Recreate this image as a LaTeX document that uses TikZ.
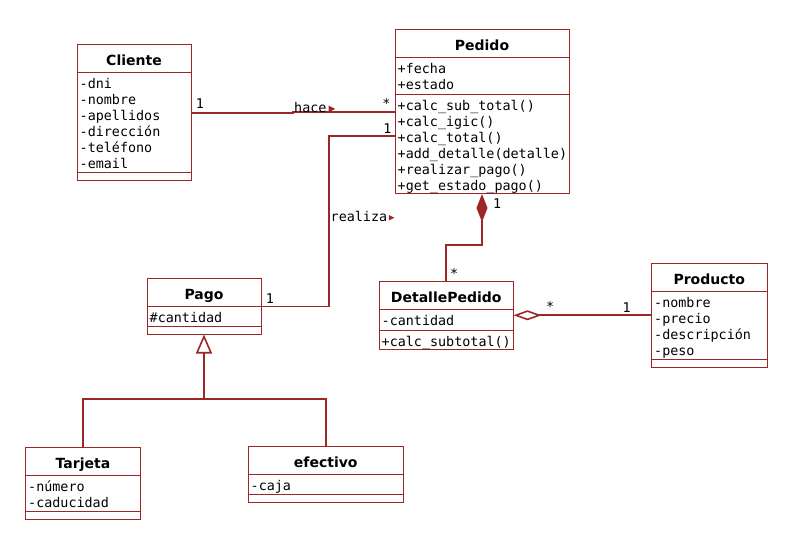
\documentclass[tikz,border=0pt]{standalone}
\usepackage{fontspec}
\setmainfont{DejaVu Sans}
\newfontfamily\monofont{DejaVu Sans Mono}
\usetikzlibrary{arrows.meta}
\definecolor{umlred}{RGB}{155,39,39}
\tikzset{
  clase/.style={draw=umlred, line width=1pt, fill=white, inner sep=0pt, outer sep=0pt},
  titulo/.style={anchor=base, inner sep=0pt, font=\fontsize{14}{16}\selectfont\bfseries},
  miembro/.style={anchor=base west, inner sep=0pt, font=\monofont\fontsize{13.4}{16}\selectfont},
  mult/.style={miembro},
  enlace/.style={draw=umlred, line width=1.6pt},
  marca/.style={fill=umlred},
}
\newcommand{\divisor}[2]{\draw[umlred, line width=1pt] ([shift={(0,#2)}]#1.north west) -- ([shift={(0,#2)}]#1.north east);}

\begin{document}
\begin{tikzpicture}[x=1pt, y=-1pt]
  \fill[white] (0,0) rectangle (795,548);
  \useasboundingbox (0,0) rectangle (795,548);

  % clases
  \node[clase, minimum width=114, minimum height=136] (cliente) at (134,113) {};
  \node[titulo] (cliente-t) at ([shift={(0,21)}]cliente.north) {Cliente};
  \divisor{cliente}{28} \divisor{cliente}{128}
  \foreach \m [count=\i] in {-dni,-nombre,-apellidos,-dirección,-teléfono,-email}
    \node[miembro] (cliente-a\i) at ([shift={(2.5,28+16*\i)}]cliente.north west) {\m};

  \node[clase, minimum width=174, minimum height=164] (pedido) at (482,112) {};
  \node[titulo] (pedido-t) at ([shift={(0,21)}]pedido.north) {Pedido};
  \divisor{pedido}{28} \divisor{pedido}{64.5}
  \foreach \m [count=\i] in {+fecha,+estado}
    \node[miembro] (pedido-a\i) at ([shift={(2.5,28+16*\i)}]pedido.north west) {\m};
  \foreach \m [count=\i] in {+calc\_sub\_total(),+calc\_igic(),+calc\_total(),+add\_detalle(detalle),+realizar\_pago(),+get\_estado\_pago()}
    \node[miembro] (pedido-m\i) at ([shift={(2.5,64.5+16*\i)}]pedido.north west) {\m};

  \node[clase, minimum width=114, minimum height=56] (pago) at (204,306.5) {};
  \node[titulo] (pago-t) at ([shift={(0,21)}]pago.north) {Pago};
  \divisor{pago}{28} \divisor{pago}{48}
  \node[miembro] (pago-a1) at ([shift={(2.5,44)}]pago.north west) {\#cantidad};

  \node[clase, minimum width=134.5, minimum height=67.5] (detalle) at (446.25,315.25) {};
  \node[titulo] (detalle-t) at ([shift={(0,21)}]detalle.north) {DetallePedido};
  \divisor{detalle}{28} \divisor{detalle}{48.5}
  \node[miembro] (detalle-a1) at ([shift={(2.5,44)}]detalle.north west) {-cantidad};
  \node[miembro] (detalle-m1) at ([shift={(2.5,64.5)}]detalle.north west) {+calc\_subtotal()};

  \node[clase, minimum width=115.5, minimum height=103.5] (producto) at (709.25,315.25) {};
  \node[titulo] (producto-t) at ([shift={(0,21)}]producto.north) {Producto};
  \divisor{producto}{28} \divisor{producto}{95.5}
  \foreach \m [count=\i] in {-nombre,-precio,-descripción,-peso}
    \node[miembro] (producto-a\i) at ([shift={(2.5,28+16*\i)}]producto.north west) {\m};

  \node[clase, minimum width=115, minimum height=72] (tarjeta) at (83,483) {};
  \node[titulo] (tarjeta-t) at ([shift={(0,21)}]tarjeta.north) {Tarjeta};
  \divisor{tarjeta}{28} \divisor{tarjeta}{64}
  \foreach \m [count=\i] in {-número,-caducidad}
    \node[miembro] (tarjeta-a\i) at ([shift={(2.5,28+16*\i)}]tarjeta.north west) {\m};

  \node[clase, minimum width=155.5, minimum height=56] (efectivo) at (325.75,474.5) {};
  \node[titulo] (efectivo-t) at ([shift={(0,21)}]efectivo.north) {efectivo};
  \divisor{efectivo}{28} \divisor{efectivo}{48}
  \node[miembro] (efectivo-a1) at ([shift={(2.5,44)}]efectivo.north west) {-caja};

  % relaciones
  \draw[enlace] (cliente.east) -- ([shift={(102,0)}]cliente.east) |- (pedido.west);
  \node[miembro] (hace) at ([shift={(103,-0.5)}]cliente.east) {hace};
  \fill[marca] ([shift={(2,-6.8)}]hace.base east) -- ++(0,6.5) -- ++(6.5,-3.25) -- cycle;

  \coordinate (codo) at ([shift={(68,0)}]pago.east);
  \draw[enlace] ([shift={(0,24)}]pedido.west) -| (codo) -- (pago.east);
  \node[miembro] (realiza) at ([shift={(1.5,-84.5)}]codo) {realiza};
  \fill[marca] ([shift={(1.5,-7)}]realiza.base east) -- ++(0,5.5) -- ++(5.5,-2.75) -- cycle;

  \draw[enlace, {Diamond[length=28pt, width=11pt, fill=umlred]}-] (pedido.south) -- ++(0,51) -| (detalle.north);
  \draw[enlace, {Diamond[open, length=28pt, width=10pt]}-] (detalle.east) -- (producto.west);

  \coordinate (junta) at ([shift={(0,64.5)}]pago.south);
  \draw[enlace] (tarjeta.north) |- (junta) -| (efectivo.north);
  \draw[enlace, -{Triangle[open, length=19pt, width=16pt]}] (junta) -- (pago.south);

  % multiplicidades
  \node[mult] (m-cliente) at ([shift={(4.7,-4)}]cliente.east) {1};
  \node[mult, anchor=base east] (m-pedido-hace) at ([shift={(-4.3,-3)}]pedido.west) {*};
  \node[mult, anchor=base east] (m-pedido-pago) at ([shift={(-3.3,21.3)}]pedido.west) {1};
  \node[mult] (m-pago) at ([shift={(4.7,-3.2)}]pago.east) {1};
  \node[mult] (m-pedido-det) at ([shift={(11,15)}]pedido.south) {1};
  \node[mult] (m-det-ped) at ([shift={(3.75,-2.8)}]detalle.north) {*};
  \node[mult] (m-det-prod) at ([shift={(32.5,-4)}]detalle.east) {*};
  \node[mult, anchor=base east] (m-prod) at ([shift={(-20.5,-3)}]producto.west) {1};
\end{tikzpicture}
\end{document}
